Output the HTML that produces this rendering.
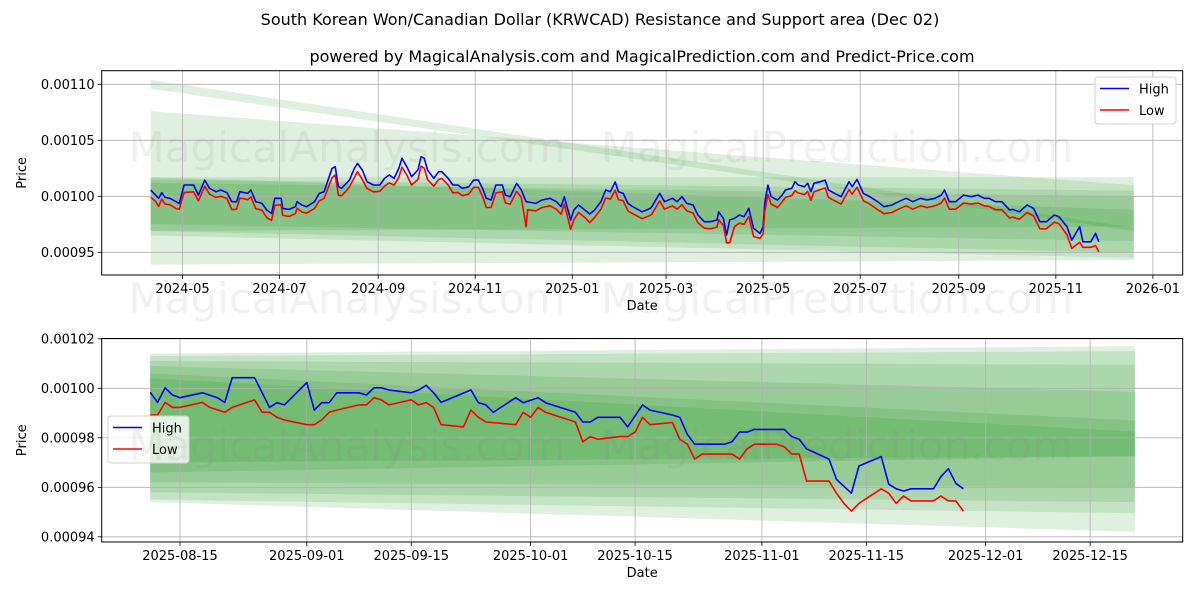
<!DOCTYPE html>
<html><head><meta charset="utf-8"><style>
html,body{margin:0;padding:0;background:#fff;}
svg{display:block;font-family:"DejaVu Sans","Liberation Sans",sans-serif;}
</style></head><body>
<svg id="chart" width="1200" height="600" viewBox="0 0 1200 600" xmlns="http://www.w3.org/2000/svg">
<rect x="0" y="0" width="1200" height="600" fill="#fff"/>
<text x="600" y="25" text-anchor="middle" font-size="16" fill="#000">South Korean Won/Canadian Dollar (KRWCAD) Resistance and Support area (Dec 02)</text>
<text x="642" y="62" text-anchor="middle" font-size="16" fill="#000">powered by MagicalAnalysis.com and MagicalPrediction.com and Predict-Price.com</text>
<g id="top"></g>
<g id="bot"></g>
<g id="wm"></g>
</svg>
<script>
// ---------- TOP PANEL DATA (days since 2024-05-01, price x1e-6) ----------
const topDays = [-20,-17,-15,-13,-11,-8,-4,-2,1,7,10,14,17,21,24,28,31,34,36,41,43,46,50,53,56,58,62,63,67,71,72,75,78,83,86,89,94,96,98,100,103,105,108,110,113,116,120,124,127,130,133,136,138,141,144,148,150,152,154,158,161,163,167,170,173,176,180,183,186,189,191,194,197,201,203,206,210,213,216,217,222,226,231,235,238,240,244,246,249,253,256,259,263,266,269,272,274,277,280,283,289,294,295,300,303,308,311,314,317,321,324,328,332,336,337,340,342,344,347,350,353,356,359,363,365,366,368,370,374,377,379,383,385,387,391,393,395,397,401,404,406,410,414,419,421,424,428,432,437,441,446,450,455,459,464,468,473,477,479,482,486,491,496,500,504,507,511,515,520,522,526,531,535,539,543,548,551,556,559,564,566,571,574,576];
const topHigh = [1005.6,1001.1,998.2,1003.2,999.0,998.2,995.2,993.7,1010.1,1010.1,1001.1,1014.5,1007.1,1004.1,1005.6,1003.2,995.2,995.2,1004.1,1002.6,1005.6,995.2,993.7,987.7,984.7,998.2,998.2,989.2,988.3,990.7,995.2,992.2,990.7,995.2,1002.6,1004.1,1024.9,1026.4,1008.6,1007.1,1011.6,1014.5,1024.9,1029.4,1023.5,1013.0,1010.1,1010.1,1016.0,1019.0,1016.0,1024.9,1033.9,1026.4,1017.5,1023.5,1035.4,1033.9,1023.5,1016.0,1022.0,1022.0,1016.0,1010.1,1010.1,1007.1,1008.6,1014.5,1014.5,1005.6,998.2,996.7,1010.1,1010.1,1001.1,999.6,1011.6,1005.6,995.2,995.0,993.7,996.7,998.2,995.2,990.7,999.6,978.8,987.7,992.2,987.7,984.2,987.7,995.2,1005.6,1004.1,1012.9,1004.1,1002.6,993.7,990.7,986.2,989.2,990.7,1002.6,995.2,998.2,995.2,999.6,993.7,992.2,983.3,977.3,977.3,978.8,986.2,980.3,965.4,978.8,980.3,983.3,981.8,989.2,971.4,966.9,972.9,993.7,1010.1,999.6,996.7,1001.1,1005.6,1007.1,1013.0,1010.1,1008.6,1011.6,1004.1,1011.6,1013.0,1014.5,1005.6,1002.6,999.6,1013.0,1008.6,1015.1,1002.6,999.6,995.2,990.7,992.2,995.2,998.2,995.2,998.2,996.7,998.2,1001.1,1005.6,995.2,995.2,1001.1,999.6,1001.1,998.2,998.2,995.2,995.2,987.7,988.3,986.2,992.2,989.2,977.3,977.3,983.3,981.8,972.9,960.9,972.9,959.4,959.4,966.9,959.4];
const topLow = [999.0,995.5,991.0,997.5,993.0,992.5,989.0,988.5,1003.5,1004.0,996.0,1009.0,1002.0,999.0,1000.0,998.0,988.0,988.5,998.5,997.0,999.5,989.0,987.5,981.0,978.5,992.0,992.5,983.0,982.0,984.5,989.5,986.0,985.0,989.0,996.0,998.0,1016.5,1019.0,1001.0,1000.5,1005.0,1008.5,1016.5,1022.0,1015.0,1007.0,1004.0,1004.5,1009.0,1012.0,1010.0,1017.0,1026.0,1019.0,1010.0,1015.0,1027.0,1025.0,1015.0,1009.0,1015.0,1016.0,1010.0,1003.0,1003.5,1000.5,1002.0,1008.0,1008.0,998.5,990.0,990.0,1003.0,1004.0,994.0,993.0,1004.5,999.0,972.8,988.0,987.0,990.0,991.5,988.5,984.0,993.0,970.5,979.0,985.5,981.0,976.5,981.0,988.5,998.5,997.5,1005.5,997.0,996.0,987.0,984.5,980.0,983.0,984.0,996.0,988.5,991.5,988.5,992.5,987.0,985.0,976.5,971.5,971.0,972.5,979.0,974.0,958.5,958.5,973.0,976.0,975.0,982.0,964.0,962.5,966.5,986.0,1001.5,993.0,990.0,995.0,999.0,1000.5,1005.0,1003.0,1001.5,1004.5,996.5,1004.0,1006.0,1007.5,999.0,996.0,993.0,1006.0,1002.0,1008.0,996.0,993.0,988.0,984.5,985.5,988.5,991.5,988.5,991.5,990.0,991.5,994.0,998.5,988.5,988.5,994.0,993.0,994.0,991.5,991.0,988.0,988.0,980.5,981.5,979.5,985.5,982.5,971.0,971.0,977.0,975.5,965.5,953.5,959.0,954.5,954.5,956.0,950.4];
const topBandTopStart = [1104,1076,1017,1017,1012,1015];
const topBandTopEnd   = [972,1010,1017,988,1000,1005];
const topBandBotStart = [1096,939,969,969,975,965];
const topBandBotEnd   = [969,943,949.6,973,960,945];
const topBandDays = [-20,598];
const topXTickDates = ["2024-05-01","2024-07-01","2024-09-01","2024-11-01","2025-01-01","2025-03-01","2025-05-01","2025-07-01","2025-09-01","2025-11-01","2026-01-01"];
const topXTickLabels = ["2024-05","2024-07","2024-09","2024-11","2025-01","2025-03","2025-05","2025-07","2025-09","2025-11","2026-01"];
const topYTicks = [1100,1050,1000,950];
const topYTickLabels = ["0.00110","0.00105","0.00100","0.00095"];

// ---------- BOTTOM PANEL DATA (2025 dates, price x1e-6) ----------
const botHighDates = ["08-11","08-12","08-13","08-14","08-15","08-18","08-20","08-21","08-22","08-25","08-27","08-28","08-29","09-01","09-02","09-03","09-04","09-05","09-08","09-09","09-10","09-11","09-12","09-15","09-16","09-17","09-18","09-19","09-23","09-24","09-25","09-26","09-29","09-30","10-02","10-03","10-07","10-08","10-09","10-10","10-13","10-14","10-16","10-17","10-20","10-21","10-22","10-23","10-27","10-28","10-29","10-30","10-31","11-04","11-05","11-06","11-07","11-10","11-11","11-13","11-14","11-17","11-18","11-19","11-20","11-21","11-24","11-25","11-26","11-27","11-28"];
const botHighVals = [998.4,994.3,1000.2,997.3,996.2,998.2,996.2,994.3,1004.3,1004.3,992.3,994.2,993.3,1002.3,991.2,994.2,994.2,998.2,998.2,997.3,1000.2,1000.2,999.3,998.2,999.3,1001.2,998.2,994.3,999.3,994.2,993.3,990.3,996.2,994.2,996.2,994.2,990.3,986.4,986.4,988.3,988.3,984.4,993.3,991.2,989.2,988.3,981.4,977.4,977.4,978.4,982.3,982.3,983.4,983.4,980.5,979.4,975.5,971.4,963.2,957.6,968.6,972.4,961.3,959.4,958.5,959.4,959.4,964.3,967.5,961.6,959.4];
const botLowDates = ["08-11","08-12","08-13","08-14","08-15","08-18","08-19","08-21","08-22","08-25","08-26","08-27","08-28","08-29","09-01","09-02","09-03","09-04","09-05","09-08","09-09","09-10","09-11","09-12","09-15","09-16","09-17","09-18","09-19","09-22","09-23","09-24","09-25","09-29","09-30","10-01","10-02","10-03","10-07","10-08","10-09","10-10","10-13","10-14","10-15","10-16","10-17","10-20","10-21","10-22","10-23","10-24","10-27","10-28","10-29","10-30","10-31","11-03","11-04","11-05","11-06","11-07","11-10","11-11","11-12","11-13","11-14","11-17","11-18","11-19","11-20","11-21","11-24","11-25","11-26","11-27","11-28"];
const botLowVals = [989.2,989.2,994.3,992.3,992.3,994.3,992.3,990.3,992.3,995.3,990.3,990.3,988.3,987.2,985.3,985.3,987.2,990.3,991.2,993.3,993.3,996.2,995.3,993.3,995.3,993.3,994.2,992.3,985.3,984.4,991.2,988.3,986.4,985.3,990.3,988.3,992.3,990.3,986.4,978.4,980.5,979.4,980.5,980.5,982.3,988.3,985.3,986.2,979.4,977.4,971.4,973.4,973.4,973.4,971.4,975.5,977.4,977.4,976.4,973.4,973.4,962.5,962.5,957.6,953.5,950.4,953.5,959.4,957.6,953.5,956.5,954.5,954.5,956.5,954.5,954.5,950.4];
const botBandTopStart = [1014,1013,1011,1009,1006,1004];
const botBandTopEnd   = [1017,1015,1009.5,998.6,987,982.5];
const botBandBotStart = [954,955,958,962,966,970];
const botBandBotEnd   = [942,949.5,954,960,972.6,972.6];
const botBandDates = ["2025-08-11","2025-12-21"];
const botXTickDates = ["2025-08-15","2025-09-01","2025-09-15","2025-10-01","2025-10-15","2025-11-01","2025-11-15","2025-12-01","2025-12-15"];
const botYTicks = [1020,1000,980,960,940];
const botYTickLabels = ["0.00102","0.00100","0.00098","0.00096","0.00094"];

const NS = "http://www.w3.org/2000/svg";
function mk(parent, tag, attrs, text) {
  const e = document.createElementNS(NS, tag);
  for (const k in attrs) e.setAttribute(k, attrs[k]);
  if (text !== undefined) e.textContent = text;
  parent.appendChild(e);
  return e;
}
function dayNum(iso) { return Date.UTC(+iso.slice(0,4), +iso.slice(5,7)-1, +iso.slice(8,10)) / 86400000; }

const TOP = {L:101.7, R:1182.7, T:70.7, B:275};
const BOT = {L:101.7, R:1182.7, T:338.5, B:542};
const topRef = dayNum("2024-05-01");
function topX(d) { return 182.5 + d * 1.5908; }
function topY(v) { return 84.3 + (1100 - v) * 1.12; }
const botRef = dayNum("2025-08-15");
function botX(iso) { return 180 + (dayNum(iso) - botRef) * 7.46; }
function botY(v) { return 338.8 + (1020 - v) * 2.475; }

function drawPanel(g, P, cfg) {
  const frame = mk(g, "rect", {x:P.L, y:P.T, width:P.R-P.L, height:P.B-P.T, fill:"#fff"});
  
  
  const bg = mk(g, "g", {});
  
  
  for (let i = 0; i < cfg.bTS.length; i++) {
    const x0 = cfg.bx0, x1 = cfg.bx1;
    const pts = [[x0, cfg.y(cfg.bTS[i])],[x1, cfg.y(cfg.bTE[i])],[x1, cfg.y(cfg.bBE[i])],[x0, cfg.y(cfg.bBS[i])]];
    const p = mk(bg, "polygon", {points: pts.map(q=>q.join(",")).join(" "), fill:"#008000", "fill-opacity":"0.12"});
    
    
  }
  const gg = mk(g, "g", {});
  
  
  cfg.xt.forEach((xv, i) => {
    mk(gg, "line", {x1:xv, x2:xv, y1:P.T, y2:P.B, stroke:"#b0b0b0", "stroke-width":"0.8"});
    mk(g, "line", {x1:xv, x2:xv, y1:P.B, y2:P.B+4, stroke:"#000", "stroke-width":"0.8"});
    const t = mk(g, "text", {x:xv, y:P.B+18, "text-anchor":"middle", "font-size":"13", fill:"#000"}, cfg.xl[i]);
    
    
  });
  cfg.yt.forEach((v, i) => {
    const yy = cfg.y(v);
    mk(gg, "line", {x1:P.L, x2:P.R, y1:yy, y2:yy, stroke:"#b0b0b0", "stroke-width":"0.8"});
    mk(g, "line", {x1:P.L-4, x2:P.L, y1:yy, y2:yy, stroke:"#000", "stroke-width":"0.8"});
    const t = mk(g, "text", {x:P.L-7, y:yy+4.5, "text-anchor":"end", "font-size":"13", fill:"#000"}, cfg.yl[i]);
    
    
  });
  const hp = cfg.hx.map((x,i)=> x.toFixed(1)+","+cfg.y(cfg.hv[i]).toFixed(1)).join(" ");
  const lp = cfg.lx.map((x,i)=> x.toFixed(1)+","+cfg.y(cfg.lv[i]).toFixed(1)).join(" ");
  const hl = mk(g, "polyline", {points:hp, fill:"none", stroke:"#0000ff", "stroke-width":"1.6", "stroke-linejoin":"round"});
  
  
  const ll = mk(g, "polyline", {points:lp, fill:"none", stroke:"#ff0000", "stroke-width":"1.6", "stroke-linejoin":"round"});
  
  
  const border = mk(g, "rect", {x:P.L, y:P.T, width:P.R-P.L, height:P.B-P.T, fill:"none", stroke:"#000", "stroke-width":"1"});
  
  
  const xt = mk(g, "text", {x:(P.L+P.R)/2, y:P.B+35, "text-anchor":"middle", "font-size":"13", fill:"#000"}, "Date");
  
  
  const cy = (P.T+P.B)/2;
  const yt = mk(g, "text", {x:26, y:cy, "text-anchor":"middle", "font-size":"13", fill:"#000", transform:"rotate(-90 26 "+cy+")"}, "Price");
  
  
  const lg = mk(g, "g", {});
  
  
  const L = cfg.leg;
  mk(lg, "rect", {x:L.x, y:L.y, width:81, height:47, rx:3, fill:"#fff", "fill-opacity":"0.8", stroke:"#d0d0d0", "stroke-width":"1"});
  const e1 = mk(lg, "g", {});
  
  
  mk(e1, "line", {x1:L.x+5, x2:L.x+34, y1:L.y+11.5, y2:L.y+11.5, stroke:"#0000ff", "stroke-width":"1.6"});
  mk(e1, "text", {x:L.x+44, y:L.y+16.5, "font-size":"13", fill:"#000"}, "High");
  const e2 = mk(lg, "g", {});
  
  
  mk(e2, "line", {x1:L.x+5, x2:L.x+34, y1:L.y+33, y2:L.y+33, stroke:"#ff0000", "stroke-width":"1.6"});
  mk(e2, "text", {x:L.x+44, y:L.y+38, "font-size":"13", fill:"#000"}, "Low");
}

drawPanel(document.getElementById("top"), TOP, {
  name:"top", y:topY,
  bx0: topX(topBandDays[0]), bx1: topX(topBandDays[1]),
  bTS:topBandTopStart, bTE:topBandTopEnd, bBS:topBandBotStart, bBE:topBandBotEnd,
  xt: topXTickDates.map(s=>topX(dayNum(s)-topRef)), xl: topXTickLabels,
  yt: topYTicks, yl: topYTickLabels,
  hx: topDays.map(topX), hv: topHigh, lx: topDays.map(topX), lv: topLow,
  leg: {x:1095, y:77}
});
drawPanel(document.getElementById("bot"), BOT, {
  name:"bottom", y:botY,
  bx0: botX(botBandDates[0]), bx1: botX(botBandDates[1]),
  bTS:botBandTopStart, bTE:botBandTopEnd, bBS:botBandBotStart, bBE:botBandBotEnd,
  xt: botXTickDates.map(botX), xl: botXTickDates,
  yt: botYTicks, yl: botYTickLabels,
  hx: botHighDates.map(s=>botX("2025-"+s)), hv: botHighVals,
  lx: botLowDates.map(s=>botX("2025-"+s)), lv: botLowVals,
  leg: {x:108, y:416}
});

const wm = document.getElementById("wm");
[[347,162],[837,162],[347,313],[837,313],[347,460],[837,460]].forEach((p, i) => {
  const t = mk(wm, "text", {x:p[0], y:p[1], "text-anchor":"middle", "font-size":"42", fill:"#808080", "fill-opacity":"0.11"}, i % 2 === 0 ? "MagicalAnalysis.com" : "MagicalPrediction.com");
  
  
});
</script>
</body></html>
